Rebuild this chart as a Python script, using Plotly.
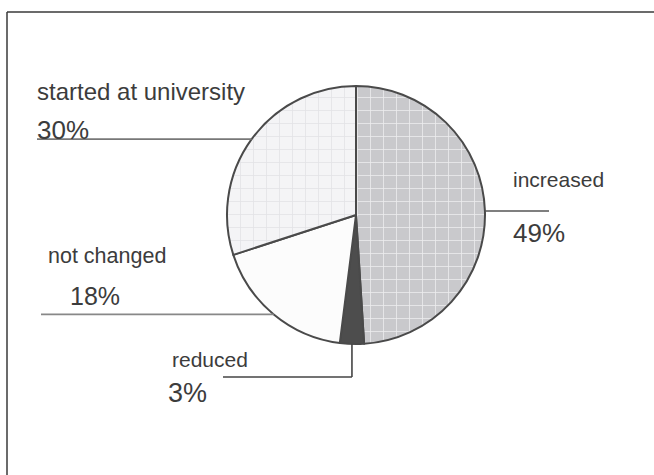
import math
import plotly.graph_objects as go

# Slice data (clockwise from 12 o'clock)
categories = ["increased", "reduced", "not changed", "started at university"]
shares = [49, 3, 18, 30]
pct_labels = ["49%", "3%", "18%", "30%"]

W, H = 654, 475
CX, CY, R = 356, 215, 129          # pie centre and radius in pixels

def px(x):
    return x / W

def py(y):
    return 1 - y / H

fill_bg = ["#c9c9cc", "#4d4d4d", "#fcfcfc", "#f4f4f6"]
fill_fg = ["#ececee", "#4d4d4d", "#fcfcfc", "#e3e3e6"]
shapes_pat = ["+", "", "", "+"]

fig = go.Figure(go.Pie(
    labels=categories,
    values=shares,
    sort=False,
    direction="clockwise",
    rotation=0,
    textinfo="none",
    hoverinfo="label+percent",
    showlegend=False,
    marker=dict(
        colors=fill_bg,
        line=dict(color="#4a4a4a", width=2),
        pattern=dict(shape=shapes_pat, fgcolor=fill_fg, bgcolor=fill_bg,
                     size=13, solidity=0.12, fillmode="replace"),
    ),
    domain=dict(x=[px(CX - R), px(CX + R)], y=[py(CY + R), py(CY - R)]),
))

# Mid-angle of each slice on the rim, used as leader-line anchors
total = sum(shares)
anchors = {}
acc = 0
for cat, v in zip(categories, shares):
    mid = (acc + v / 2) / total * 2 * math.pi
    anchors[cat] = (CX + R * math.sin(mid), CY - R * math.cos(mid))
    acc += v

shapes = []

def seg(x0, y0, x1, y1, color="#555555", width=1.6):
    shapes.append(dict(type="line", xref="paper", yref="paper",
                       x0=px(x0), y0=py(y0), x1=px(x1), y1=py(y1),
                       line=dict(color=color, width=width)))

# outer frame (top and left edges)
seg(7, 12, W, 12, color="#3a3a3a", width=1.5)
seg(7, 12, 7, H, color="#3a3a3a", width=1.5)

# leader lines
ax, ay = anchors["started at university"]
seg(37, ay, ax, ay, color="#777777", width=1.8)
ax, ay = anchors["not changed"]
seg(41, ay, ax, ay, color="#888888", width=1.8)
ax, ay = anchors["increased"]
seg(ax, ay, 549, ay, color="#555555", width=1.6)
ax, ay = anchors["reduced"]
seg(ax, ay, ax, 377, color="#444444", width=1.6)
seg(223, 377, ax, 377, color="#444444", width=1.6)

# label text: (text, left x, baseline y, font size)
label_pos = [
    ("started at university", 35, 100, 24),
    (pct_labels[3], 35, 139, 26),
    ("not changed", 46, 264, 21.5),
    (pct_labels[2], 68, 305, 25),
    ("increased", 511, 187, 21),
    (pct_labels[0], 511, 242, 26),
    ("reduced", 170, 367, 21),
    (pct_labels[1], 166, 403, 27),
]

annotations = []
for text, x, base, size in label_pos:
    annotations.append(dict(
        text=text, xref="paper", yref="paper",
        x=px(x), y=py(base - 0.36 * size),
        xanchor="left", yanchor="middle", showarrow=False,
        font=dict(family="Liberation Sans, Arial, sans-serif", size=size, color="#3c3c3c"),
    ))

fig.update_layout(
    width=W, height=H,
    margin=dict(l=0, r=0, t=0, b=0),
    paper_bgcolor="white",
    plot_bgcolor="white",
    shapes=shapes,
    annotations=annotations,
)

fig.write_html("out.html")
